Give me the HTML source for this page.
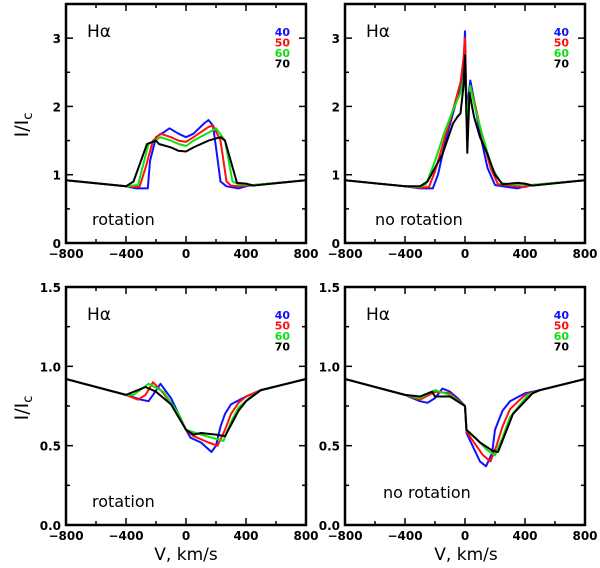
<!DOCTYPE html>
<html><head><meta charset="utf-8"><style>
body{margin:0;background:#fff;}
svg{display:block;font-family:"DejaVu Sans","Liberation Sans",sans-serif;}
</style></head><body>
<svg id="c" width="600" height="568" viewBox="0 0 600 568" xmlns="http://www.w3.org/2000/svg"></svg>
<script>
const legendLabels=["40","50","60","70"];
const seriesColors=["#1010ff","#ff1010","#10e010","#000000"];
const xTicks=[-800,-400,0,400,800];
const topYTicks=[0,1,2,3];
const botYTicks=["0.0","0.5","1.0","1.5"];
// top-left: rotation (v, I/Ic pairs)
const tl40=[[-800,.92],[-400,.83],[-330,.80],[-255,.80],[-240,1.2],[-200,1.55],[-150,1.62],[-110,1.68],[-50,1.6],[0,1.55],[50,1.6],[120,1.75],[150,1.8],[180,1.72],[200,1.4],[230,.9],[270,.83],[350,.80],[400,.83],[450,.85],[800,.92]];
const tl50=[[-800,.92],[-400,.83],[-310,.82],[-270,1.1],[-220,1.5],[-170,1.6],[-100,1.55],[-50,1.5],[0,1.48],[50,1.55],[150,1.7],[180,1.72],[230,1.5],[270,.9],[300,.84],[350,.83],[450,.85],[800,.92]];
const tl60=[[-800,.92],[-400,.83],[-320,.85],[-250,1.45],[-170,1.55],[-100,1.5],[-50,1.45],[0,1.42],[50,1.5],[180,1.65],[200,1.68],[260,1.5],[310,.9],[350,.86],[450,.85],[800,.92]];
const tl70=[[-800,.92],[-400,.83],[-350,.9],[-260,1.45],[-200,1.5],[-180,1.45],[-100,1.4],[-50,1.35],[0,1.34],[50,1.4],[150,1.5],[230,1.55],[260,1.5],[340,.88],[400,.87],[450,.84],[800,.92]];
// top-right: no rotation
const tr40=[[-800,.92],[-400,.83],[-300,.80],[-215,.80],[-180,1.0],[-130,1.5],[-80,1.9],[-30,2.3],[-10,2.6],[0,3.1],[10,2.0],[20,2.1],[35,2.38],[60,2.1],[100,1.6],[150,1.1],[200,.85],[250,.83],[350,.80],[400,.83],[450,.85],[800,.92]];
const tr50=[[-800,.92],[-400,.83],[-300,.81],[-240,.82],[-200,1.05],[-140,1.5],[-80,1.95],[-30,2.35],[-10,2.7],[0,3.0],[10,1.9],[20,2.0],[35,2.3],[70,2.0],[110,1.6],[170,1.1],[220,.86],[300,.84],[400,.82],[450,.85],[800,.92]];
const tr60=[[-800,.92],[-400,.83],[-300,.82],[-260,.86],[-200,1.2],[-140,1.6],[-80,1.95],[-30,2.2],[-10,2.4],[0,2.7],[10,1.8],[20,2.0],[35,2.3],[70,1.95],[120,1.55],[180,1.1],[240,.88],[300,.86],[400,.86],[450,.85],[800,.92]];
const tr70=[[-800,.92],[-400,.83],[-300,.83],[-250,.9],[-150,1.3],[-80,1.75],[-50,1.85],[-30,1.9],[-10,2.3],[0,2.75],[15,1.32],[30,2.2],[60,1.85],[100,1.55],[150,1.3],[200,1.0],[250,.86],[350,.88],[400,.87],[450,.84],[800,.92]];
// bottom-left: rotation
const bl40=[[-800,.92],[-400,.82],[-300,.79],[-250,.78],[-220,.82],[-170,.89],[-100,.80],[-50,.70],[0,.60],[30,.55],[100,.52],[170,.46],[200,.50],[230,.62],[260,.70],[300,.76],[400,.81],[500,.85],[800,.92]];
const bl50=[[-800,.92],[-400,.82],[-320,.79],[-270,.82],[-220,.90],[-150,.83],[-50,.70],[0,.60],[50,.56],[150,.52],[210,.50],[260,.60],[300,.70],[350,.77],[400,.81],[500,.85],[800,.92]];
const bl60=[[-800,.92],[-400,.82],[-350,.82],[-250,.89],[-150,.84],[-50,.70],[0,.60],[100,.57],[250,.53],[300,.65],[350,.74],[420,.80],[500,.85],[800,.92]];
const bl70=[[-800,.92],[-400,.82],[-270,.87],[-200,.84],[-100,.76],[0,.60],[50,.57],[100,.58],[200,.57],[260,.56],[300,.63],[350,.72],[400,.78],[500,.85],[800,.92]];
// bottom-right: no rotation
const br40=[[-800,.92],[-400,.82],[-300,.78],[-250,.77],[-200,.80],[-150,.86],[-100,.84],[-50,.80],[0,.75],[10,.58],[50,.50],[100,.40],[140,.37],[180,.45],[200,.60],[250,.72],[300,.78],[400,.83],[500,.85],[800,.92]];
const br50=[[-800,.92],[-400,.82],[-300,.79],[-200,.84],[-100,.83],[0,.75],[10,.59],[60,.52],[120,.44],[170,.40],[210,.50],[250,.62],[300,.73],[400,.82],[500,.85],[800,.92]];
const br60=[[-800,.92],[-400,.82],[-300,.80],[-200,.85],[-100,.82],[0,.75],[10,.60],[80,.54],[150,.47],[200,.44],[250,.55],[300,.68],[420,.82],[500,.85],[800,.92]];
const br70=[[-800,.92],[-400,.82],[-300,.81],[-220,.84],[-200,.81],[-100,.81],[0,.75],[10,.60],[100,.52],[180,.47],[220,.46],[270,.58],[320,.70],[450,.83],[500,.85],[800,.92]];

const NS="http://www.w3.org/2000/svg";
const svg=document.getElementById('c');
function mk(tag,attrs,parent){const e=document.createElementNS(NS,tag);for(const k in attrs)e.setAttribute(k,attrs[k]);(parent||svg).appendChild(e);return e;}
function txt(s,attrs,parent){const e=mk('text',attrs,parent);e.textContent=s;return e;}

const panels=[
 {id:'top-left',x0:66,x1:306,y0:4,y1:243,ymax:3.5,series:[tl40,tl50,tl60,tl70],label:'rotation',lx:92,ly:225,top:true},
 {id:'top-right',x0:345,x1:585,y0:4,y1:243,ymax:3.5,series:[tr40,tr50,tr60,tr70],label:'no rotation',lx:375,ly:225,top:true},
 {id:'bottom-left',x0:66,x1:306,y0:287,y1:525,ymax:1.5,series:[bl40,bl50,bl60,bl70],label:'rotation',lx:92,ly:507,top:false},
 {id:'bottom-right',x0:345,x1:585,y0:287,y1:525,ymax:1.5,series:[br40,br50,br60,br70],label:'no rotation',lx:383,ly:498,top:false}
];
panels.forEach(p=>{
 const g=mk('g',{});
 
 
 const X=v=>p.x0+(v+800)/1600*(p.x1-p.x0);
 const Y=v=>p.y1-v/p.ymax*(p.y1-p.y0);
 // series
 p.series.forEach((s,i)=>{
  const d=s.map((pt,j)=>(j?'L':'M')+X(pt[0]).toFixed(1)+','+Y(pt[1]).toFixed(1)).join('');
  const path=mk('path',{d:d,fill:'none',stroke:seriesColors[i],'stroke-width':2,'stroke-linejoin':'round'},g);
  
  
 });
 // ticks x
 for(let v=-800;v<=800;v+=200){
  const major=v%400===0;const L=major?7:4;
  mk('line',{x1:X(v),x2:X(v),y1:p.y1,y2:p.y1-L,stroke:'#000','stroke-width':1.5},g);
  mk('line',{x1:X(v),x2:X(v),y1:p.y0,y2:p.y0+L,stroke:'#000','stroke-width':1.5},g);
 }
 xTicks.forEach(v=>{
  const t=txt((v<0?'\u2212':'')+Math.abs(v),{x:X(v),y:p.y1+15,'text-anchor':'middle','font-size':12,'font-weight':'bold'},g);
  
  
 });
 // ticks y
 const step=p.top?0.5:0.25;
 for(let v=0;v<=p.ymax+1e-6;v+=step){
  const major=p.top?(Math.abs(v-Math.round(v))<1e-6):(Math.abs(v*2-Math.round(v*2))<1e-6);const L=major?7:4;
  mk('line',{x1:p.x0,x2:p.x0+L,y1:Y(v),y2:Y(v),stroke:'#000','stroke-width':1.5},g);
  mk('line',{x1:p.x1,x2:p.x1-L,y1:Y(v),y2:Y(v),stroke:'#000','stroke-width':1.5},g);
 }
 const yl=p.top?topYTicks.map(String):botYTicks;
 yl.forEach(s=>{
  const t=txt(s,{x:p.x0-5,y:Y(parseFloat(s))+5,'text-anchor':'end','font-size':12,'font-weight':'bold'},g);
  
  
 });
 // frame
 const fr=mk('rect',{x:p.x0,y:p.y0,width:p.x1-p.x0,height:p.y1-p.y0,fill:'none',stroke:'#000','stroke-width':2.5},g);
 
 
 const h=txt('H\u03b1',{x:p.x0+21,y:p.y0+33,'font-size':17},g);
 
 
 const lab=txt(p.label,{x:p.lx,y:p.ly,'font-size':16},g);
 
 
 legendLabels.forEach((s,i)=>{
  const t=txt(s,{x:p.x1-16,y:p.y0+32+i*10.5,'text-anchor':'end','font-size':11,'font-weight':'bold',fill:seriesColors[i]},g);
  
  
 });
});
[[125],[408]].forEach(([cy],i)=>{
 const t=txt('I/I',{x:0,y:0,'font-size':19,transform:'translate(28,'+cy+') rotate(-90)','text-anchor':'middle'});
 const ts=mk('tspan',{'font-size':13,dy:4},t);ts.textContent='c';
 
 
});
[186,466].forEach(cx=>{
 const t=txt('V, km/s',{x:cx,y:560,'text-anchor':'middle','font-size':17});
 
 
});
</script>
</body></html>
